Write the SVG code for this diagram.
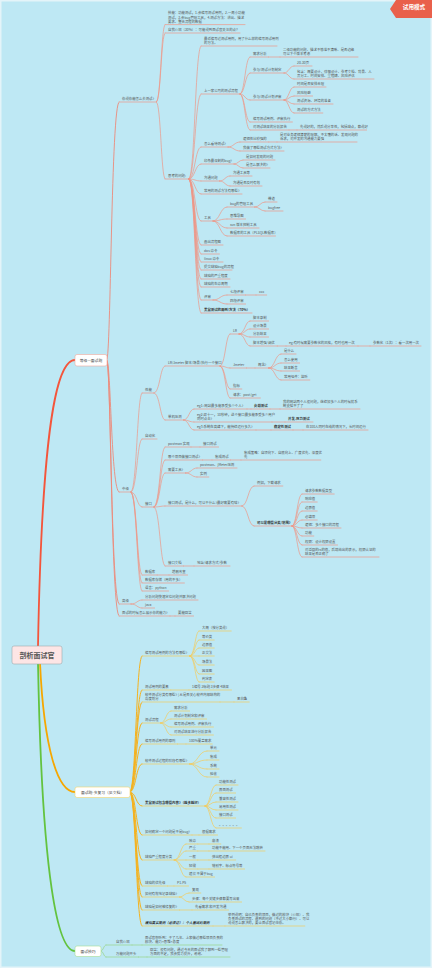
<svg xmlns="http://www.w3.org/2000/svg" width="432" height="968" viewBox="0 0 432 968">
<style>
text{font-family:"Noto Sans CJK SC","Noto Sans",sans-serif;font-size:3.4px;fill:#555}
.bd{font-weight:bold;fill:#333}
.it{font-style:italic}
.r,.y,.g,.R,.Y,.G,.M{fill:none;stroke-linecap:round}
.r{stroke:#ee9787;stroke-width:.7}
.y{stroke:#f2cb5e;stroke-width:.7}
.g{stroke:#9ad488;stroke-width:.7}
.R{stroke:#ec8a7a;stroke-width:.9}
.Y{stroke:#f5b21e;stroke-width:1}
.G{stroke:#86cc70;stroke-width:.9}
.box{font-size:3.8px;fill:#444;text-anchor:middle}
</style>
<rect x="0" y="0" width="432" height="968" fill="#e4f4f9"/>
<rect x="1.5" y="1.5" width="429" height="965" fill="#bee8f4"/>
<g id="connectors">
<path class="M" stroke="#f4553b" stroke-width="1.8" d="M38 646C42 430 56 360 75 360"/>
<path class="M" stroke="#f6a700" stroke-width="1.8" d="M40 663C44 750 58 792 75 792"/>
<path class="M" stroke="#63c33f" stroke-width="1.8" d="M38 663C42 880 58 951 75 951"/>
<g class="R">
<path d="M107 360C111 360 111 102 119 102"/><path d="M107 360C111 360 111 492 119 492"/><path d="M107 360C111 360 111 604 119 604"/><path d="M107 360C111 360 111 616 119 616"/>
</g>
<g class="r">
<path d="M156.5 102C161 102 161 24.6 165 24.6"/><path d="M156.5 102C161 102 161 33 165 33"/><path d="M156.5 102C161 102 161 179 165 179"/>
<path d="M189 179C195 179 195 46 201 46"/><path d="M189 179C195 179 195 94 201 94"/><path d="M189 179C195 179 195 147 201 147"/><path d="M189 179C195 179 195 164 201 164"/><path d="M189 179C195 179 195 181 201 181"/><path d="M189 179C195 179 195 194 201 194"/><path d="M189 179C195 179 195 221 201 221"/><path d="M189 179C195 179 195 245 201 245"/><path d="M189 179C195 179 195 254 201 254"/><path d="M189 179C195 179 195 262 201 262"/><path d="M189 179C195 179 195 270 201 270"/><path d="M189 179C195 179 195 279 201 279"/><path d="M189 179C195 179 195 287 201 287"/><path d="M189 179C195 179 195 300 201 300"/><path d="M189 179C195 179 195 313 201 313"/>
<path d="M240 94C245 94 245 57 250 57"/><path d="M240 94C245 94 245 73 250 73"/><path d="M240 94C245 94 245 100 250 100"/><path d="M240 94C245 94 245 122 250 122"/><path d="M240 94C245 94 245 130 250 130"/>
<path d="M268.6 57H280"/>
<path d="M284 73C289 73 289 66 294 66"/><path d="M284 73C289 73 289 79 294 79"/>
<path d="M284 100C289 100 289 87 294 87"/><path d="M284 100C289 100 289 96 294 96"/><path d="M284 100C289 100 289 104 294 104"/><path d="M284 100C289 100 289 113 294 113"/>
<path d="M289 130H297"/>
<path d="M228 147C234 147 234 142 240 142"/><path d="M228 147C234 147 234 151 240 151"/><path d="M268.8 142H277"/>
<path d="M234 164C238.5 164 238.5 160 243 160"/><path d="M234 164C238.5 164 238.5 168 243 168"/>
<path d="M219.6 181C225 181 225 176 230 176"/><path d="M219.6 181C225 181 225 186 230 186"/>
<path d="M213 221C220 221 220 207 227 207"/><path d="M213 221C220 221 220 219 227 219"/><path d="M213 221C220 221 220 228 227 228"/><path d="M213 221C220 221 220 236 227 236"/>
<path d="M254.7 207C260 207 260 202 265 202"/><path d="M254.7 207C260 207 260 211 265 211"/>
<path d="M213 300C220 300 220 295 227 295"/><path d="M213 300C220 300 220 304 227 304"/><path d="M245.6 295H256"/>
<path d="M131 492C137 492 137 393 142 393"/><path d="M131 492C137 492 137 439 142 439"/><path d="M131 492C137 492 137 507 142 507"/><path d="M131 492C137 492 137 575 142 575"/><path d="M131 492C137 492 137 583 142 583"/><path d="M131 492C137 492 137 591 142 591"/>
<path d="M154 393C160 393 160 366 165 366"/><path d="M154 393C160 393 160 420 165 420"/>
<path d="M220 366C225.5 366 225.5 334 230 334"/><path d="M220 366C225.5 366 225.5 368 230 368"/><path d="M220 366C225.5 366 225.5 389 230 389"/><path d="M220 366C225.5 366 225.5 398 230 398"/>
<path d="M239 334C245 334 245 321 250 321"/><path d="M239 334C245 334 245 329 250 329"/><path d="M239 334C245 334 245 337 250 337"/><path d="M239 334C245 334 245 346 250 346"/>
<path d="M277.3 346H286"/><path d="M358 346H370"/><path d="M246.4 368H255"/>
<path d="M268.7 368C275 368 275 354 281 354"/><path d="M268.7 368C275 368 275 363 281 363"/><path d="M268.7 368C275 368 275 371 281 371"/><path d="M268.7 368C275 368 275 380 281 380"/>
<path d="M183.6 420C189 420 189 409 194 409"/><path d="M183.6 420C189 420 189 422 194 422"/><path d="M183.6 420C189 420 189 430 194 430"/>
<path d="M247 409H251"/><path d="M270 409H280"/><path d="M272 422H285"/><path d="M256 430H271"/><path d="M293 430H303"/>
<path d="M154 507C160 507 160 447 165 447"/><path d="M154 507C160 507 160 460 165 460"/><path d="M154 507C160 507 160 473 165 473"/><path d="M154 507C160 507 160 506 165 506"/><path d="M154 507C160 507 160 566 165 566"/>
<path d="M191 447H200"/><path d="M202.5 460H212"/><path d="M230.6 460H241"/>
<path d="M185.5 473C191.5 473 191.5 468 197 468"/><path d="M185.5 473C191.5 473 191.5 477 197 477"/>
<path d="M241.8 506C248 506 248 486 254 486"/><path d="M241.8 506C248 506 248 526 254 526"/>
<path d="M292 526C297 526 297 494 302 494"/><path d="M292 526C297 526 297 502 302 502"/><path d="M292 526C297 526 297 511 302 511"/><path d="M292 526C297 526 297 520 302 520"/><path d="M292 526C297 526 297 528 302 528"/><path d="M292 526C297 526 297 536 302 536"/><path d="M292 526C297 526 297 545 302 545"/><path d="M292 526C297 526 297 557 302 557"/>
<path d="M183.6 566H194"/><path d="M157.2 575H169"/>
<path d="M131 604C137 604 137 600 142 600"/><path d="M131 604C137 604 137 608 142 608"/>
<path d="M170 616H175"/>
</g>
<g class="Y">
<path d="M130 792C136 792 136 656 142 656"/><path d="M130 792C136 792 136 690 142 690"/><path d="M130 792C136 792 136 702 142 702"/><path d="M130 792C136 792 136 723 142 723"/><path d="M130 792C136 792 136 744 142 744"/><path d="M130 792C136 792 136 764 142 764"/><path d="M130 792C136 792 136 806 142 806"/><path d="M130 792C136 792 136 835 142 835"/><path d="M130 792C136 792 136 860 142 860"/><path d="M130 792C136 792 136 886 142 886"/><path d="M130 792C136 792 136 897 142 897"/><path d="M130 792C136 792 136 910 142 910"/><path d="M130 792C136 792 136 926 142 926"/>
</g>
<g class="y">
<path d="M189.7 656C195 656 195 631 199 631"/><path d="M189.7 656C195 656 195 640 199 640"/><path d="M189.7 656C195 656 195 648 199 648"/><path d="M189.7 656H199"/><path d="M189.7 656C195 656 195 665 199 665"/><path d="M189.7 656C195 656 195 674 199 674"/><path d="M189.7 656C195 656 195 682 199 682"/>
<path d="M170.8 690H189"/><path d="M220 702H234"/>
<path d="M160.6 723C166 723 166 711 171 711"/><path d="M160.6 723C166 723 166 719 171 719"/><path d="M160.6 723C166 723 166 727 171 727"/><path d="M160.6 723C166 723 166 735 171 735"/>
<path d="M177.6 744H186"/>
<path d="M189.7 764C198 764 198 751 207 751"/><path d="M189.7 764C198 764 198 760 207 760"/><path d="M189.7 764C198 764 198 769 207 769"/><path d="M189.7 764C198 764 198 777 207 777"/>
<path d="M205 806C210.5 806 210.5 785 216 785"/><path d="M205 806C210.5 806 210.5 793 216 793"/><path d="M205 806C210.5 806 210.5 802 216 802"/><path d="M205 806C210.5 806 210.5 810 216 810"/><path d="M205 806C210.5 806 210.5 818 216 818"/><path d="M205 806C210.5 806 210.5 828 216 828"/>
<path d="M192 835H199"/>
<path d="M174.2 860C180.5 860 180.5 844 186 844"/><path d="M174.2 860C180.5 860 180.5 851 186 851"/><path d="M174.2 860H186"/><path d="M174.2 860C180.5 860 180.5 869 186 869"/><path d="M174.2 860C180.5 860 180.5 877 186 877"/>
<path d="M197.8 844H209"/><path d="M197.8 851H209"/><path d="M197.8 860H209"/><path d="M197.8 869H209"/>
<path d="M167.4 886H174"/>
<path d="M179.5 897C184 897 184 893 189 893"/><path d="M179.5 897C184 897 184 902 189 902"/>
<path d="M179.5 910H192"/><path d="M213 926H225"/>
</g>
<g class="g">
<path d="M101 951C103.5 951 103.5 945 106 945"/><path d="M101 951C103.5 951 103.5 957 106 957"/>
<path d="M132 945H142"/><path d="M138.4 957H147"/>
</g>
</g>
<g id="root"><rect x="12" y="646" width="50" height="18" rx="2" fill="#fde5e5" stroke="#9fa8ad" stroke-width=".6"/><text x="37" y="658" style="font-size:7px;font-weight:bold;fill:#555" text-anchor="middle">剖析面试官</text></g>
<g id="L1-red"><rect x="75" y="354.5" width="32" height="11.5" rx="2" fill="#fff" stroke="#f2a89b" stroke-width=".6"/><text class="box" x="91" y="361.5">等级—面试题</text></g>
<g id="L1-yellow"><rect x="75" y="787" width="55" height="10.5" rx="2" fill="#fff" stroke="#f5d36a" stroke-width=".6"/><text class="box" x="102.5" y="793.6">面试题-多复习（见文档）</text></g>
<g id="L1-green"><rect x="75" y="946" width="26" height="10.5" rx="2" fill="#fff" stroke="#a5dc95" stroke-width=".6"/><text class="box" x="88" y="952.6">面试技巧</text></g>
<g id="n-A"><text x="122" y="100.2">你说你能怎么去测试?</text><path class="r" d="M119 102H156.5"/></g>
<g id="n-A1"><text x="168" y="14.2">技能：功能测试，1.会编写测试用例，2.一周小功能</text><text x="168" y="18.5">测试，3.会bug管理工具，4.测试方法：讲出、描述</text><text x="168" y="22.8">要求、整合流程的数据</text><path class="r" d="M165 24.6H245"/></g>
<g id="n-A2"><text x="168" y="31.2">自我介绍（30%）：可能说到面试官关注的点？</text><path class="r" d="M165 33H240"/></g>
<g id="n-A3"><text x="168" y="177.2">思考的问题:</text><path class="r" d="M165 179H189"/></g>
<g id="n-a"><text x="204" y="39.9">最近编写过测试用例，用了什么样的编写测试用例</text><text x="204" y="44.2">的方法。</text><path class="r" d="M201 46H277"/></g>
<g id="n-b"><text x="204" y="92.2">上一家公司的测试流程</text><path class="r" d="M201 94H240"/></g>
<g id="n-b1"><text x="253" y="55.2">需求分析</text><path class="r" d="M250 57H268.6"/></g>
<g id="n-b1a"><text x="283" y="50.9">二级功能的问题、描述不够准不清晰、是否边缘</text><text x="283" y="55.2">可以下个版本考虑</text><path class="r" d="M280 57H358"/></g>
<g id="n-b2"><text x="253" y="71.2">参与/测试计划制定</text><path class="r" d="M250 73H284"/></g>
<g id="n-b2a"><text x="297" y="64.2">20-30页</text><path class="r" d="M294 66H312"/></g>
<g id="n-b2b"><text x="297" y="72.9">包含：概要设计、详细设计、参考文档、背景、人</text><text x="297" y="77.2">员分工、时间安排、里程碑、风险评估</text><path class="r" d="M294 79H374"/></g>
<g id="n-b3"><text x="253" y="98.2">参与/测试计划评审</text><path class="r" d="M250 100H284"/></g>
<g id="n-b3a"><text x="297" y="85.2">时间是否安排合理</text><path class="r" d="M294 87H326"/></g>
<g id="n-b3b"><text x="297" y="94.2">风险规避</text><path class="r" d="M294 96H312.6"/></g>
<g id="n-b3c"><text x="297" y="102.2">测试资源、环境的准备</text><path class="r" d="M294 104H333"/></g>
<g id="n-b3d"><text x="297" y="111.2">测试的方式方法</text><path class="r" d="M294 113H322.8"/></g>
<g id="n-b4"><text x="253" y="120.2">编写测试用例、评审执行</text><path class="r" d="M250 122H292.4"/></g>
<g id="n-b5"><text x="253" y="128.2">对测试结果的分析报告</text><path class="r" d="M250 130H289"/></g>
<g id="n-b5a"><text x="300" y="128.2">先说好的，然后说分享性，包括缺点，都说好</text><path class="r" d="M297 130H366.6"/></g>
<g id="n-c"><text x="204" y="145.2">怎么看待测试?</text><path class="r" d="M201 147H228"/></g>
<g id="n-c1"><text x="243" y="140.2">逻辑性比较强的</text><path class="r" d="M240 142H268.8"/></g>
<g id="n-c1a"><text x="280" y="135.9">是对业务逻辑清楚的理解、不太懂的话、发现问题的</text><text x="280" y="140.2">诉求，对开发的沟通能力要强</text><path class="r" d="M277 142H357"/></g>
<g id="n-c2"><text x="243" y="149.2">我做了哪些测试方式方法?</text><path class="r" d="M240 151H284"/></g>
<g id="n-d"><text x="204" y="162.2">印象最深刻的bug?</text><path class="r" d="M201 164H234"/></g>
<g id="n-d1"><text x="246" y="158.2">是如何发现的问题</text><path class="r" d="M243 160H275"/></g>
<g id="n-d2"><text x="246" y="166.2">是怎么解决的?</text><path class="r" d="M243 168H270"/></g>
<g id="n-e"><text x="204" y="179.2">沟通问题</text><path class="r" d="M201 181H219.6"/></g>
<g id="n-e1"><text x="233" y="174.2">沟通工具等</text><path class="r" d="M230 176H252"/></g>
<g id="n-e2"><text x="233" y="184.2">沟通是否及时有效</text><path class="r" d="M230 186H262"/></g>
<g id="n-f"><text x="204" y="192.2">常用的测试方法有哪些?</text><path class="r" d="M201 194H242"/></g>
<g id="n-g"><text x="204" y="219.2">工具</text><path class="r" d="M201 221H213"/></g>
<g id="n-g1"><text x="230" y="205.2">bug的管理工具</text><path class="r" d="M227 207H254.7"/></g>
<g id="n-g1a"><text x="268" y="200.2">禅道</text><path class="r" d="M265 202H277"/></g>
<g id="n-g1b"><text x="268" y="209.2">bugfree</text><path class="r" d="M265 211H283"/></g>
<g id="n-g2"><text x="230" y="217.2">思维导图</text><path class="r" d="M227 219H245.6"/></g>
<g id="n-g3"><text x="230" y="226.2">svn 版本控制工具</text><path class="r" d="M227 228H259"/></g>
<g id="n-g4"><text x="230" y="234.2">数据库的工具（PLSQL数据库）</text><path class="r" d="M227 236H275.5"/></g>
<g id="n-h"><text x="204" y="243.2">画出流程图</text><path class="r" d="M201 245H223"/></g>
<g id="n-i"><text x="204" y="252.2">dos 命令</text><path class="r" d="M201 254H219.4"/></g>
<g id="n-j"><text x="204" y="260.2">linux 命令</text><path class="r" d="M201 262H223"/></g>
<g id="n-k"><text x="204" y="268.2">提交缺陷bug的流程</text><path class="r" d="M201 270H232"/></g>
<g id="n-l"><text x="204" y="277.2">缺陷的严重程度</text><path class="r" d="M201 279H230"/></g>
<g id="n-m"><text x="204" y="285.2">缺陷的生命周期</text><path class="r" d="M201 287H230"/></g>
<g id="n-n"><text x="204" y="298.2">评审</text><path class="r" d="M201 300H213"/></g>
<g id="n-n1"><text x="230" y="293.2">七段评审</text><path class="r" d="M227 295H245.6"/></g>
<g id="n-n1a"><text x="259" y="293.2">xxx</text><path class="r" d="M256 295H266.7"/></g>
<g id="n-n2"><text x="230" y="302.2">四段评审</text><path class="r" d="M227 304H245.6"/></g>
<g id="n-o"><text class="bd" x="204" y="311.2">黑盒测试的用例/方法（70%）</text><path class="r" d="M201 313H252"/></g>
<g id="n-B"><text x="122" y="490.2">中级</text><path class="r" d="M119 492H131"/></g>
<g id="n-p"><text x="145" y="391.2">性能</text><path class="r" d="M142 393H154"/></g>
<g id="n-q"><text x="168" y="364.2">LR/Jmeter 脚本/场景/执行一个接口</text><path class="r" d="M165 366H220"/></g>
<g id="n-q1"><text x="233" y="332.2">LR</text><path class="r" d="M230 334H239"/></g>
<g id="n-q1a"><text x="253" y="319.2">脚本录制</text><path class="r" d="M250 321H268.6"/></g>
<g id="n-q1b"><text x="253" y="327.2">设计场景</text><path class="r" d="M250 329H268.6"/></g>
<g id="n-q1c"><text x="253" y="335.2">分析结果</text><path class="r" d="M250 337H268.6"/></g>
<g id="n-q1d"><text x="253" y="344.2">脚本增强/调优</text><path class="r" d="M250 346H277.3"/></g>
<g id="n-q1e"><text x="289" y="344.2">eg:有时候需要参数化的风格，有时也用一次</text><path class="r" d="M286 346H358"/></g>
<g id="n-q1f"><text x="373" y="344.2">参数化（1次）：看一次用一次</text><path class="r" d="M370 346H421"/></g>
<g id="n-q2"><text x="233" y="366.2">Jmeter</text><path class="r" d="M230 368H246.4"/></g>
<g id="n-q2a"><text x="258" y="366.2">概念?</text><path class="r" d="M255 368H268.7"/></g>
<g id="n-q2b"><text x="284" y="352.2">是什么</text><path class="r" d="M281 354H296"/></g>
<g id="n-q2c"><text x="284" y="361.2">怎么使用</text><path class="r" d="M281 363H299.6"/></g>
<g id="n-q2d"><text x="284" y="369.2">结果断言</text><path class="r" d="M281 371H299.6"/></g>
<g id="n-q2e"><text x="284" y="378.2">常用组件：监听</text><path class="r" d="M281 380H309.8"/></g>
<g id="n-q3"><text x="233" y="387.2">指标</text><path class="r" d="M230 389H241.8"/></g>
<g id="n-q4"><text x="233" y="396.2">请求：post/get</text><path class="r" d="M230 398H260.4"/></g>
<g id="n-r"><text x="168" y="418.2">单机压测</text><path class="r" d="M165 420H183.6"/></g>
<g id="n-r1"><text x="197" y="407.2">eg1: 网站最多能承受多少个人?</text><path class="r" d="M194 409H247"/></g>
<g id="n-r1a"><text class="bd" x="254" y="407.2">负载测试</text><path class="r" d="M251 409H270"/></g>
<g id="n-r1b"><text x="283" y="402.9">我的网站两个人没问题，继续加多少人的时候就系</text><text x="283" y="407.2">统支撑不了了</text><path class="r" d="M280 409H360"/></g>
<g id="n-r2"><text x="197" y="415.9">eg2:双十一，10秒钟，这个接口最多能承受多少用户</text><text x="197" y="420.2">同时点击?</text><path class="r" d="M194 422H272"/></g>
<g id="n-r2a"><text class="bd" x="288" y="420.2">并发-压力测试</text><path class="r" d="M285 422H313"/></g>
<g id="n-r3"><text x="197" y="428.2">eg3:系统在高峰下，能持续运行多久?</text><path class="r" d="M194 430H256"/></g>
<g id="n-r3a"><text class="bd" x="274" y="428.2">稳定性测试</text><path class="r" d="M271 430H293"/></g>
<g id="n-r3b"><text x="306" y="428.2">在100人同时在线的情况下，长时间运行</text><path class="r" d="M303 430H368"/></g>
<g id="n-s"><text x="145" y="437.2">自动化</text><path class="r" d="M142 439H157"/></g>
<g id="n-t"><text x="145" y="505.2">接口</text><path class="r" d="M142 507H154"/></g>
<g id="n-t1"><text x="168" y="445.2">postman 实现</text><path class="r" d="M165 447H191"/></g>
<g id="n-t1a"><text x="203" y="445.2">接口测试</text><path class="r" d="M200 447H218.6"/></g>
<g id="n-t2"><text x="168" y="458.2">哪个项目做接口测试?</text><path class="r" d="M165 460H202.5"/></g>
<g id="n-t2a"><text x="215" y="458.2">集成测试</text><path class="r" d="M212 460H230.6"/></g>
<g id="n-t2b"><text x="244" y="453.9">集成策略：自顶向下、自底向上、广度优先、深度优</text><text x="244" y="458.2">先</text><path class="r" d="M241 460H320.8"/></g>
<g id="n-t3"><text x="168" y="471.2">需要工具?</text><path class="r" d="M165 473H185.5"/></g>
<g id="n-t3a"><text x="200" y="466.2">postman、jMeter压测</text><path class="r" d="M197 468H237"/></g>
<g id="n-t3b"><text x="200" y="475.2">实例</text><path class="r" d="M197 477H208.8"/></g>
<g id="n-t4"><text x="168" y="504.2">接口测试，是什么，可以干什么?最好需要有啥?</text><path class="r" d="M165 506H241.8"/></g>
<g id="n-t4a"><text x="257" y="484.2">例如，下载请求</text><path class="r" d="M254 486H282.8"/></g>
<g id="n-t4b"><text class="bd" x="257" y="524.2">可以是哪些分类/范围?</text><path class="r" d="M254 526H292"/></g>
<g id="n-t4b1"><text x="305" y="492.2">请求参数数据类型</text><path class="r" d="M302 494H334.2"/></g>
<g id="n-t4b2"><text x="305" y="500.2">响应值</text><path class="r" d="M302 502H317.2"/></g>
<g id="n-t4b3"><text x="305" y="509.2">边界值</text><path class="r" d="M302 511H317.2"/></g>
<g id="n-t4b4"><text x="305" y="518.2">必填项</text><path class="r" d="M302 520H317.2"/></g>
<g id="n-t4b5"><text x="305" y="526.2">逻辑：多个接口的流程</text><path class="r" d="M302 528H341"/></g>
<g id="n-t4b6"><text x="305" y="534.2">功能</text><path class="r" d="M302 536H313.8"/></g>
<g id="n-t4b7"><text x="305" y="543.2">权限：设计权限设置</text><path class="r" d="M302 545H337.6"/></g>
<g id="n-t4b8"><text x="305" y="550.9">对返回的rs的值，后端给出的表示，权限认证的</text><text x="305" y="555.2">结果是否正确了</text><path class="r" d="M302 557H379"/></g>
<g id="n-t5"><text x="168" y="564.2">接口文档</text><path class="r" d="M165 566H183.6"/></g>
<g id="n-t5a"><text x="197" y="564.2">地址/请求方式/参数</text><path class="r" d="M194 566H230"/></g>
<g id="n-u"><text x="145" y="573.2">数据库</text><path class="r" d="M142 575H157.2"/></g>
<g id="n-u1"><text x="172" y="573.2">增删改查</text><path class="r" d="M169 575H187.6"/></g>
<g id="n-v"><text x="145" y="581.2">数据库存储（用的不多）</text><path class="r" d="M142 583H184.4"/></g>
<g id="n-w"><text x="145" y="589.2">语言：python</text><path class="r" d="M142 591H168.6"/></g>
<g id="n-C"><text x="122" y="602.2">高级</text><path class="r" d="M119 604H131"/></g>
<g id="n-C1"><text x="145" y="598.2">分析问题快速定位问题并解决问题</text><path class="r" d="M142 600H198"/></g>
<g id="n-C2"><text x="145" y="606.2">java</text><path class="r" d="M142 608H154.6"/></g>
<g id="n-D"><text x="122" y="614.2">面试的时候怎么展示你的能力?</text><path class="r" d="M119 616H170"/></g>
<g id="n-D1"><text x="178" y="614.2">要能回答</text><path class="r" d="M175 616H193.6"/></g>
<g id="n-Y1"><text x="145" y="654.2">编写测试用例的方法有哪些?</text><path class="y" d="M142 656H189.7"/></g>
<g id="n-Y1a"><text x="202" y="629.2">大概（按分类说）</text><path class="y" d="M199 631H231.2"/></g>
<g id="n-Y1b"><text x="202" y="638.2">等价类</text><path class="y" d="M199 640H214.2"/></g>
<g id="n-Y1c"><text x="202" y="646.2">边界值</text><path class="y" d="M199 648H214.2"/></g>
<g id="n-Y1d"><text x="202" y="654.2">正交法</text><path class="y" d="M199 656H214.2"/></g>
<g id="n-Y1e"><text x="202" y="663.2">场景法</text><path class="y" d="M199 665H214.2"/></g>
<g id="n-Y1f"><text x="202" y="672.2">因果图</text><path class="y" d="M199 674H214.2"/></g>
<g id="n-Y1g"><text x="202" y="680.2">判定表</text><path class="y" d="M199 682H214.2"/></g>
<g id="n-Y2"><text x="145" y="688.2">测试用例的要素</text><path class="y" d="M142 690H170.8"/></g>
<g id="n-Y2a"><text x="192" y="688.2">1编号 2标题 3步骤 4结果</text><path class="y" d="M189 690H231.5"/></g>
<g id="n-Y3"><text x="145" y="695.9">软件测试分类有哪些? | 从是否关心软件内部结构的</text><text x="145" y="700.2">角度划分</text><path class="y" d="M142 702H220"/></g>
<g id="n-Y3a"><text x="237" y="700.2">黑白盒</text><path class="y" d="M234 702H249.2"/></g>
<g id="n-Y4"><text x="145" y="721.2">测试流程</text><path class="y" d="M142 723H160.6"/></g>
<g id="n-Y4a"><text x="174" y="709.2">需求分析</text><path class="y" d="M171 711H189.6"/></g>
<g id="n-Y4b"><text x="174" y="717.2">测试计划制定和评审</text><path class="y" d="M171 719H206.6"/></g>
<g id="n-Y4c"><text x="174" y="725.2">编写测试用例、评审执行</text><path class="y" d="M171 727H213.4"/></g>
<g id="n-Y4d"><text x="174" y="733.2">对测试结果进行分析报告</text><path class="y" d="M171 735H213.4"/></g>
<g id="n-Y5"><text x="145" y="742.2">编写测试用例的原则</text><path class="y" d="M142 744H177.6"/></g>
<g id="n-Y5a"><text x="189" y="742.2">100%覆盖需求</text><path class="y" d="M186 744H212.2"/></g>
<g id="n-Y6"><text x="145" y="762.2">软件测试过程的阶段有哪些?</text><path class="y" d="M142 764H189.7"/></g>
<g id="n-Y6a"><text x="210" y="749.2">单元</text><path class="y" d="M207 751H219"/></g>
<g id="n-Y6b"><text x="210" y="758.2">集成</text><path class="y" d="M207 760H219"/></g>
<g id="n-Y6c"><text x="210" y="767.2">系统</text><path class="y" d="M207 769H219"/></g>
<g id="n-Y6d"><text x="210" y="775.2">验收</text><path class="y" d="M207 777H219"/></g>
<g id="n-Y7"><text class="bd" x="145" y="804.2">黑盒测试包含哪些内容?（越多越好）</text><path class="y" d="M142 806H205"/></g>
<g id="n-Y7a"><text x="219" y="783.2">功能性测试</text><path class="y" d="M216 785H238"/></g>
<g id="n-Y7b"><text x="219" y="791.2">界面测试</text><path class="y" d="M216 793H235.6"/></g>
<g id="n-Y7c"><text x="219" y="800.2">兼容性测试</text><path class="y" d="M216 802H238"/></g>
<g id="n-Y7d"><text x="219" y="808.2">易用性测试</text><path class="y" d="M216 810H238"/></g>
<g id="n-Y7e"><text x="219" y="816.2">接口测试</text><path class="y" d="M216 818H235.6"/></g>
<g id="n-Y7f"><text x="219" y="826.2">。。。。。。</text><path class="y" d="M216 828H241.4"/></g>
<g id="n-Y8"><text x="145" y="833.2">如何确定一个问题是不是bug?</text><path class="y" d="M142 835H192"/></g>
<g id="n-Y8a"><text x="202" y="833.2">根据需求</text><path class="y" d="M199 835H217.6"/></g>
<g id="n-Y9"><text x="145" y="858.2">缺陷严重程度分类</text><path class="y" d="M142 860H174.2"/></g>
<g id="n-Y9a"><text x="189" y="842.2">致命</text><path class="y" d="M186 844H197.8"/></g>
<g id="n-Y9a1"><text x="212" y="842.2">崩溃</text><path class="y" d="M209 844H220.8"/></g>
<g id="n-Y9b"><text x="189" y="849.2">严重</text><path class="y" d="M186 851H197.8"/></g>
<g id="n-Y9b1"><text x="212" y="849.2">功能不能用、下一个页面无法跳转</text><path class="y" d="M209 851H265"/></g>
<g id="n-Y9c"><text x="189" y="858.2">一般</text><path class="y" d="M186 860H197.8"/></g>
<g id="n-Y9c1"><text x="212" y="858.2">弹出框边界 ui</text><path class="y" d="M209 860H235.7"/></g>
<g id="n-Y9d"><text x="189" y="867.2">轻微</text><path class="y" d="M186 869H197.8"/></g>
<g id="n-Y9d1"><text x="212" y="867.2">错别字、标点符号等</text><path class="y" d="M209 869H244.6"/></g>
<g id="n-Y9e"><text x="189" y="875.2">建议 不属于bug</text><path class="y" d="M186 877H214.6"/></g>
<g id="n-Y10"><text x="145" y="884.2">缺陷的优先级</text><path class="y" d="M142 886H167.4"/></g>
<g id="n-Y10a"><text x="177" y="884.2">P1-P5</text><path class="y" d="M174 886H188.5"/></g>
<g id="n-Y11"><text x="145" y="895.2">如何有效地记录缺陷?</text><path class="y" d="M142 897H179.5"/></g>
<g id="n-Y11a"><text x="192" y="891.2">复现</text><path class="y" d="M189 893H200.8"/></g>
<g id="n-Y11b"><text x="192" y="900.2">步骤：每个关键步骤都要写出来</text><path class="y" d="M189 902H241.6"/></g>
<g id="n-Y12"><text x="145" y="908.2">缺陷是如何被修复的?</text><path class="y" d="M142 910H179.5"/></g>
<g id="n-Y12a"><text x="195" y="908.2">先看需求 和开发沟通</text><path class="y" d="M192 910H228.5"/></g>
<g id="n-Y13"><text class="bd it" x="145" y="924.2">模拟真实案例（必须记）：个人面试的案例</text><path class="y" d="M142 926H213"/></g>
<g id="n-Y13a"><text x="228" y="915.6">举例说明：自己负责的项目、做过的模块（介绍）、我</text><text x="228" y="919.9">负责测试的流程、遇到的问题（不过大小都行）、可以</text><text x="228" y="924.2">说说怎么解决的，要让面试官记住你。</text><path class="y" d="M225 926H304.8"/></g>
<g id="n-G1"><text x="116" y="943.2">自我介绍</text><path class="g" d="M106 945H132"/></g>
<g id="n-G1a"><text x="145" y="938.9">面试官想听到：干了几年、上家做过哪些项目负责的</text><text x="145" y="943.2">模块、能力+思维+态度</text><path class="g" d="M142 945H222"/></g>
<g id="n-G2"><text x="116" y="955.2">万能问题开头</text><path class="g" d="M106 957H138.4"/></g>
<g id="n-G2a"><text x="150" y="950.9">回答：没有问题，通过今天的面试我了解到一些管理</text><text x="150" y="955.2">方面的不足，我会努力提升，谢谢。</text><path class="g" d="M147 957H230"/></g>
<g id="badge"><polygon points="390,9 396,0 432,0 432,18 396,18" fill="#e9604b"/><text x="414" y="9.4" text-anchor="middle" style="font-size:5.6px;font-weight:bold;fill:#fff">试用模式</text></g>
</svg>
